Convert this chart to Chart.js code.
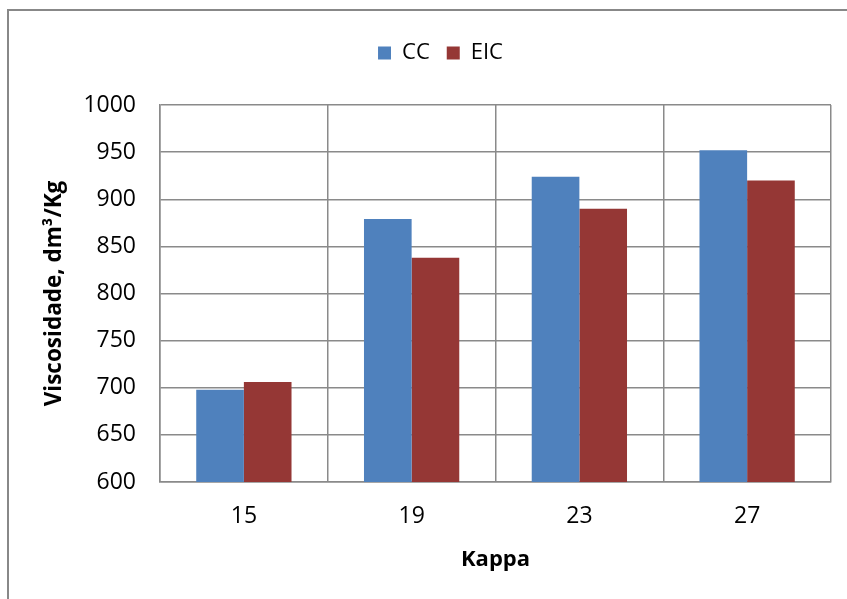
<!DOCTYPE html>
<html>
<head>
<meta charset="utf-8">
<script src="https://cdn.jsdelivr.net/npm/chart.js@4/dist/chart.umd.min.js"></script>
<style>
  body { margin: 0; background: #fff; overflow: hidden; }
  #frame { position: absolute; left: 7px; top: 9px; width: 900px; height: 700px; border: 2px solid #888; }
  #wrap { position: absolute; left: 0; top: 0; width: 847px; height: 599px; }
</style>
</head>
<body>
<div id="frame"></div>
<div id="wrap"><canvas id="myChart"></canvas></div>
<script>
const kappa = ['15', '19', '23', '27'];
const cc = [698, 879, 924, 952];
const eic = [706, 838, 890, 920];

const gridColor = '#8a8a8a';
Chart.defaults.font.family = '"Open Sans", sans-serif';
Chart.defaults.color = '#000';

// leave a gap under the legend and center it over the plot, like the original
const legendGap = {
    id: 'legendGap',
    beforeInit(chart) {
        const fit = chart.legend.fit;
        chart.legend.fit = function() {
            fit.bind(chart.legend)();
            this.height += 31;
        };
    },
    afterLayout(chart) {
        chart.legend.left += 25;
        chart.legend.right += 25;
    }
};

const config = {
    type: 'bar',
    data: {
        labels: kappa,
        datasets: [
            { label: 'CC', data: cc, backgroundColor: '#4f81bd', categoryPercentage: 0.568, barPercentage: 1 },
            { label: 'EIC', data: eic, backgroundColor: '#953735', categoryPercentage: 0.568, barPercentage: 1 }
        ]
    },
    options: {
        responsive: true,
        maintainAspectRatio: false,
        animation: false,
        layout: { padding: { left: 0, right: 16, top: 25, bottom: 0 } },
        scales: {
            x: {
                grid: { color: gridColor, lineWidth: 1.5, drawTicks: false },
                border: { color: gridColor, width: 1.5 },
                ticks: { font: { size: 23 }, padding: 21 },
                title: { display: true, text: 'Kappa', font: { size: 22, weight: 'bold' }, padding: { top: 26, bottom: 26 } },
                afterFit: function(scale) { scale.height = 599 - 482; }
            },
            y: {
                min: 600,
                max: 1000,
                ticks: { stepSize: 50, font: { size: 23 }, padding: 24, callback: function(v) { return String(v); } },
                grid: { color: gridColor, lineWidth: 1.5, drawTicks: false },
                border: { color: gridColor, width: 1.5 },
                title: { display: true, text: 'Viscosidade, dm³/Kg', font: { size: 22.5, weight: 'bold' }, padding: { top: 41, bottom: 41 } },
                afterFit: function(scale) { scale.width = 160; }
            }
        },
        plugins: {
            legend: {
                position: 'top',
                labels: { boxWidth: 13, boxHeight: 13, font: { size: 22 }, padding: 17 }
            },
            tooltip: { enabled: false }
        }
    },
    plugins: [legendGap]
};

const myChart = new Chart(document.getElementById('myChart'), config);
</script>
</body>
</html>
